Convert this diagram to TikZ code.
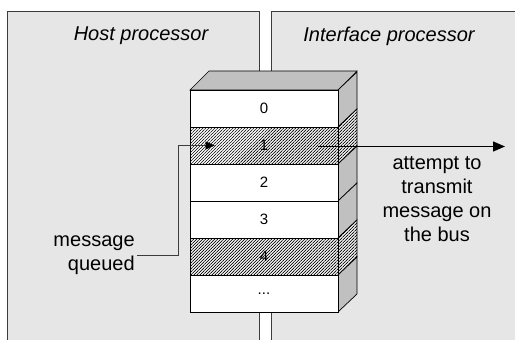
\documentclass[tikz,border=0pt]{standalone}
\usepackage{fontspec}
\setmainfont{Liberation Sans}
\usetikzlibrary{patterns.meta,arrows.meta}
\definecolor{panelgray}{RGB}{230,230,230}
\definecolor{facegray}{RGB}{192,192,192}
\definecolor{edgegray}{RGB}{60,60,60}
\newcommand\moreslots{...}
\begin{document}
\begin{tikzpicture}[x = 1pt, y = -1pt, line width = 0.7pt,
  slot/.style = {draw, fill = white, minimum width = 148pt, minimum height = 37pt,
    inner sep = 0pt, font = \fontsize{15}{18}\selectfont},
  hatched/.style = {preaction = {fill = white},
    pattern = {Lines[angle = 45, distance = 2.12pt, line width = 0.65pt]}},
  caption/.style = {font = \fontsize{20}{24}\selectfont, align = center}]
\useasboundingbox (0,0) rectangle (515,340);
\fill[white] (0,0) rectangle (515,340);
% the two processors
\fill[panelgray] (7,11) rectangle (259,345) (271,11) rectangle (520,345);
\draw[edgegray] (7,345) -- (7,11) -- (259,11) -- (259,345);
\draw[edgegray] (520,11) -- (271,11) -- (271,345);
\node[caption] (host) at (141,36) {\itshape Host processor};
\node[caption] (iface) at (389,36) {\itshape Interface processor};
% the queue, top face first
\draw[fill = facegray] (190,90) -- (209,71) -- (357,71) -- (338,90) -- cycle;
\foreach \i / \txt / \h in {0/0/0, 1/1/1, 2/2/0, 3/3/0, 4/4/1, 5/\moreslots/0}
{
	\pgfmathsetmacro\ytop{90 + 37*\i}
	\ifnum\h = 1
		\draw[hatched] (338,\ytop) -- ++(19,-18) -- ++(0,37) -- ++(-19,18) -- cycle;
		\node[slot, hatched] (r\i) at (264,\ytop + 18.5) {\txt};
	\else
		\draw[fill = facegray] (338,\ytop) -- ++(19,-18) -- ++(0,37) -- ++(-19,18) -- cycle;
		\node[slot] (r\i) at (264,\ytop + 18.5) {\txt};
	\fi
}
% messages in and out
\node[caption, align = right, anchor = east, inner sep = 2pt] (queued) at (137,255) {message\\queued};
\node[caption] (bus) at (437,199) {attempt to\\transmit\\message on\\the bus};
\coordinate (busend) at (505,146.5);
\draw[edgegray, line width = 0.6pt, -{Triangle[length = 9pt, width = 8pt, black]}]
	(queued.east) -- ++(41,0) |- ([xshift = 25pt]r1.west);
\draw[line width = 1.4pt, -{Triangle[length = 12pt, width = 10pt]}]
	([xshift = -20pt]r1.east |- busend) -- (busend);
\end{tikzpicture}
\end{document}
